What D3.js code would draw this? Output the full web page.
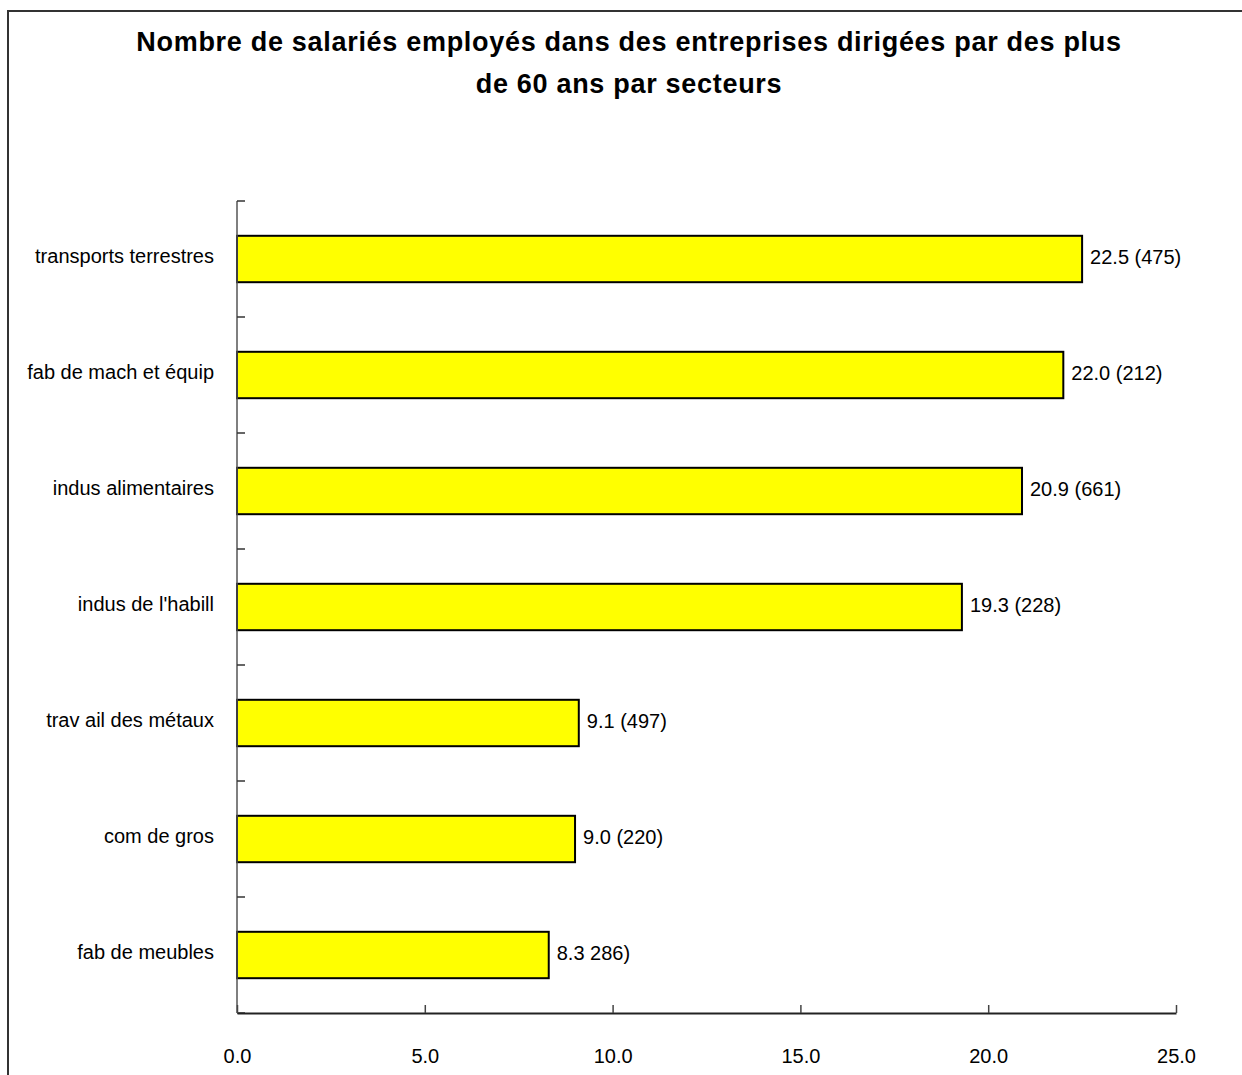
<!DOCTYPE html>
<html>
<head>
<meta charset="utf-8">
<script src="https://cdn.jsdelivr.net/npm/d3@7"></script>
<style>
  body { margin: 0; background: #fff; }
  svg { display: block; font-family: "Liberation Sans Narrow", "Arial Narrow", "Liberation Sans", Arial, sans-serif; }
</style>
</head>
<body>
<div id="chart"></div>
<script>
// chart data
const categories = ['transports terrestres', 'fab de mach et équip', 'indus alimentaires',
                    "indus de l'habill", 'trav ail des métaux', 'com de gros', 'fab de meubles'];
const values = [22.5, 22.0, 20.9, 19.3, 9.1, 9.0, 8.3];
const valueLabels = ['22.5 (475)', '22.0 (212)', '20.9 (661)', '19.3 (228)', '9.1 (497)', '9.0 (220)', '8.3 286)'];
const xTicks = [0, 5, 10, 15, 20, 25];
const titleLines = ['Nombre de salariés employés dans des entreprises dirigées par des plus',
                    'de 60 ans par secteurs'];

const FRAME_WIDTH = 1242;
const FRAME_HEIGHT = 1075;
const MARGINS = {left: 237, right: 66, top: 201, bottom: 62};
const VIS_WIDTH = FRAME_WIDTH - MARGINS.left - MARGINS.right;
const VIS_HEIGHT = FRAME_HEIGHT - MARGINS.top - MARGINS.bottom;

const FRAME = d3.select('#chart')
    .append('svg')
        .attr('width', FRAME_WIDTH)
        .attr('height', FRAME_HEIGHT);

// outer border (runs off the right and bottom edges)
FRAME.append('rect')
    .attr('x', 8)
    .attr('y', 11)
    .attr('width', FRAME_WIDTH + 20)
    .attr('height', FRAME_HEIGHT + 20)
    .attr('fill', 'none')
    .attr('stroke', '#333')
    .attr('stroke-width', 2);

// title
FRAME.append('text')
    .attr('x', 629)
    .attr('text-anchor', 'middle')
    .attr('font-family', '"Liberation Sans", Arial, sans-serif')
    .attr('font-weight', 'bold')
    .attr('font-size', '27px')
    .attr('letter-spacing', '0.7px')
    .selectAll('tspan')
    .data(titleLines)
    .enter()
    .append('tspan')
        .attr('x', 629)
        .attr('y', (d, i) => 51 + i * 42)
        .text(d => d);

// scales
const X_SCALE = d3.scaleLinear()
    .domain([0, 25])
    .range([0, VIS_WIDTH]);

const Y_SCALE = d3.scaleBand()
    .domain(categories)
    .range([0, VIS_HEIGHT])
    .paddingInner(0.6)
    .paddingOuter(0.3);

const G = FRAME.append('g')
    .attr('transform', 'translate(' + MARGINS.left + ',' + MARGINS.top + ')');

// bars
G.selectAll('.bar')
    .data(values)
    .enter()
    .append('rect')
        .attr('class', 'bar')
        .attr('x', 0)
        .attr('y', (d, i) => Y_SCALE(categories[i]))
        .attr('width', d => X_SCALE(d))
        .attr('height', Y_SCALE.bandwidth())
        .attr('fill', '#ffff00')
        .attr('stroke', '#000')
        .attr('stroke-width', 2);

// value labels
G.selectAll('.vlabel')
    .data(values)
    .enter()
    .append('text')
        .attr('class', 'vlabel')
        .attr('x', d => X_SCALE(d) + 8)
        .attr('y', (d, i) => Y_SCALE(categories[i]) + Y_SCALE.bandwidth() / 2)
        .attr('dy', '0.25em')
        .attr('font-size', '20px')
        .attr('fill', '#000')
        .text((d, i) => valueLabels[i]);

// category labels
G.selectAll('.clabel')
    .data(categories)
    .enter()
    .append('text')
        .attr('class', 'clabel')
        .attr('x', -23)
        .attr('y', d => Y_SCALE(d) + Y_SCALE.bandwidth() / 2)
        .attr('dy', '0.2em')
        .attr('text-anchor', 'end')
        .attr('font-size', '20px')
        .attr('fill', '#000')
        .text(d => d);

// y axis with tick marks between categories
const yTickPos = d3.range(categories.length + 1).map(i => i * VIS_HEIGHT / categories.length);
G.append('line')
    .attr('x1', 0).attr('x2', 0)
    .attr('y1', 0).attr('y2', VIS_HEIGHT)
    .attr('stroke', '#555')
    .attr('stroke-width', 1.5);
G.selectAll('.ytick')
    .data(yTickPos)
    .enter()
    .append('line')
        .attr('class', 'ytick')
        .attr('x1', 0).attr('x2', 8)
        .attr('y1', d => d).attr('y2', d => d)
        .attr('stroke', '#333')
        .attr('stroke-width', 1.5);

// x axis
const xAxis = G.append('g')
    .attr('transform', 'translate(0,' + VIS_HEIGHT + ')')
    .call(d3.axisBottom(X_SCALE).tickValues(xTicks).tickFormat(d3.format('.1f')).tickSizeInner(-8).tickSizeOuter(0).tickPadding(36));
xAxis.select('.domain').attr('stroke', '#222').attr('stroke-width', 2);
xAxis.selectAll('.tick line').attr('stroke', '#444').attr('stroke-width', 1.5);
xAxis.selectAll('.tick text')
    .attr('font-family', '"Liberation Sans Narrow", "Arial Narrow", "Liberation Sans", Arial, sans-serif')
    .attr('font-size', '20px')
    .attr('fill', '#000');
</script>
</body>
</html>
